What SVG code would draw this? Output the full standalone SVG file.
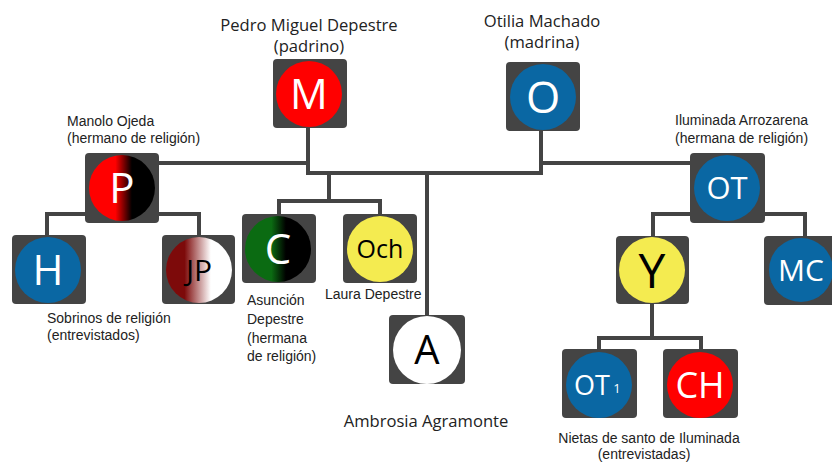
<svg xmlns="http://www.w3.org/2000/svg" width="832" height="466" viewBox="0 0 832 466">
<defs>
<linearGradient id="gP" x1="0" y1="0" x2="1" y2="0"><stop offset="0.4" stop-color="#ff0000"/><stop offset="0.65" stop-color="#000"/></linearGradient>
<linearGradient id="gC" x1="0" y1="0" x2="1" y2="0"><stop offset="0.4" stop-color="#0b6b12"/><stop offset="0.62" stop-color="#000"/></linearGradient>
<linearGradient id="gJP" x1="0" y1="0" x2="1" y2="0"><stop offset="0.28" stop-color="#7d0a0a"/><stop offset="0.68" stop-color="#fff"/></linearGradient>
</defs>
<style>
.box{fill:#444;}
.red{fill:#f00;}
.blue{fill:#0a67a3;}
.yel{fill:#f4eb50;}
.wh{fill:#fff;}
.lt{font-family:"Open Sans","DejaVu Sans",sans-serif;font-weight:400;text-anchor:middle;}
.lw{fill:#fff;}
.lb{fill:#000;}
.lab{font-family:"Open Sans","DejaVu Sans",sans-serif;font-size:16.6px;fill:#222;text-anchor:middle;}
.lab2{font-family:"Liberation Sans",Arial,sans-serif;font-size:14px;fill:#222;}
.con{fill:none;stroke:#444;stroke-width:4;}
</style>
<g id="connectors" class="con">
<polyline points="308,128 308,173 541,173 541,131"/>
<polyline points="159,163 308,163"/>
<polyline points="541,163 690,163"/>
<polyline points="47,235 47,214 199,214 199,235"/>
<polyline points="329,173 329,201"/>
<polyline points="279,214 279,201 380,201 380,214"/>
<polyline points="427,173 427,316"/>
<polyline points="653,236 653,214 805,214 805,236"/>
<polyline points="652,304 652,338"/>
<polyline points="599,349 599,338 701,338 701,349"/>
</g>
<g id="M"><rect class="box" x="273" y="59" width="74" height="69" rx="4"/><circle class="red" cx="309" cy="94" r="33"/><text class="lt lw" x="309" y="109" font-size="42">M</text>
<text class="lab" x="309" y="31">Pedro Miguel Depestre</text><text class="lab" x="309" y="52">(padrino)</text></g>
<g id="O"><rect class="box" x="506" y="62" width="74" height="69" rx="4"/><circle class="blue" cx="543" cy="97" r="33"/><text class="lt lw" x="543" y="113" font-size="44">O</text>
<text class="lab" x="542" y="27">Otilia Machado</text><text class="lab" x="542" y="48">(madrina)</text></g>
<g id="P"><rect class="box" x="85" y="153" width="74" height="70" rx="4"/><circle fill="url(#gP)" cx="122" cy="188" r="33"/><text class="lt lw" x="122" y="203" font-size="42">P</text>
<text class="lab2" x="67" y="126">Manolo Ojeda</text><text class="lab2" x="67" y="143">(hermano de religión)</text></g>
<g id="H"><rect class="box" x="12" y="235" width="74" height="69" rx="4"/><circle class="blue" cx="48" cy="270" r="33"/><text class="lt lw" x="48" y="285" font-size="42">H</text>
<text class="lab2" x="47" y="323">Sobrinos de religión</text><text class="lab2" x="47" y="340">(entrevistados)</text></g>
<g id="JP"><rect class="box" x="162" y="235" width="73" height="69" rx="4"/><circle fill="url(#gJP)" cx="199" cy="270" r="33"/><text class="lt lb" x="199" y="281" font-size="30">JP</text></g>
<g id="C"><rect class="box" x="242" y="214" width="74" height="69" rx="4"/><circle fill="url(#gC)" cx="278" cy="249" r="33"/><text class="lt lw" x="278" y="264" font-size="42">C</text>
<text class="lab2" x="247" y="305">Asunción</text><text class="lab2" x="247" y="324">Depestre</text><text class="lab2" x="247" y="343">(hermana</text><text class="lab2" x="247" y="361">de religión)</text></g>
<g id="Och"><rect class="box" x="343" y="214" width="74" height="69" rx="4"/><circle class="yel" cx="380" cy="249" r="33"/><text class="lt lb" x="380" y="258" font-size="25">Och</text>
<text class="lab2" x="325" y="299">Laura Depestre</text></g>
<g id="A"><rect class="box" x="389" y="315" width="76" height="69" rx="4"/><circle class="wh" cx="427" cy="350" r="34"/><text class="lt lb" x="427" y="364" font-size="40">A</text>
<text class="lab" x="426" y="427">Ambrosia Agramonte</text></g>
<g id="OT"><rect class="box" x="690" y="153" width="75" height="70" rx="4"/><circle class="blue" cx="727" cy="188" r="33"/><text class="lt lw" x="727" y="199" font-size="31">OT</text>
<text class="lab2" x="675" y="125">Iluminada Arrozarena</text><text class="lab2" x="675" y="143">(hermana de religión)</text></g>
<g id="Y"><rect class="box" x="616" y="236" width="73" height="68" rx="4"/><circle class="yel" cx="652" cy="270" r="33"/><text class="lt lb" x="652" y="288" font-size="48">Y</text></g>
<g id="MC"><rect class="box" x="764" y="236" width="74" height="69" rx="4"/><circle class="blue" cx="801" cy="270" r="32"/><text class="lt lw" x="801" y="281" font-size="30">MC</text></g>
<g id="OT1"><rect class="box" x="562" y="349" width="75" height="69" rx="4"/><circle class="blue" cx="599" cy="385" r="33"/><text class="lt lw" x="592" y="395" font-size="27">OT</text><text class="lt lw" x="617" y="393" font-size="13">1</text></g>
<g id="CH"><rect class="box" x="663" y="349" width="75" height="69" rx="4"/><circle class="red" cx="700" cy="385" r="33"/><text class="lt lw" x="700" y="398" font-size="36">CH</text>
<text class="lab2" x="649" y="443" text-anchor="middle">Nietas de santo de Iluminada</text><text class="lab2" x="644" y="459" text-anchor="middle">(entrevistadas)</text></g>
</svg>
